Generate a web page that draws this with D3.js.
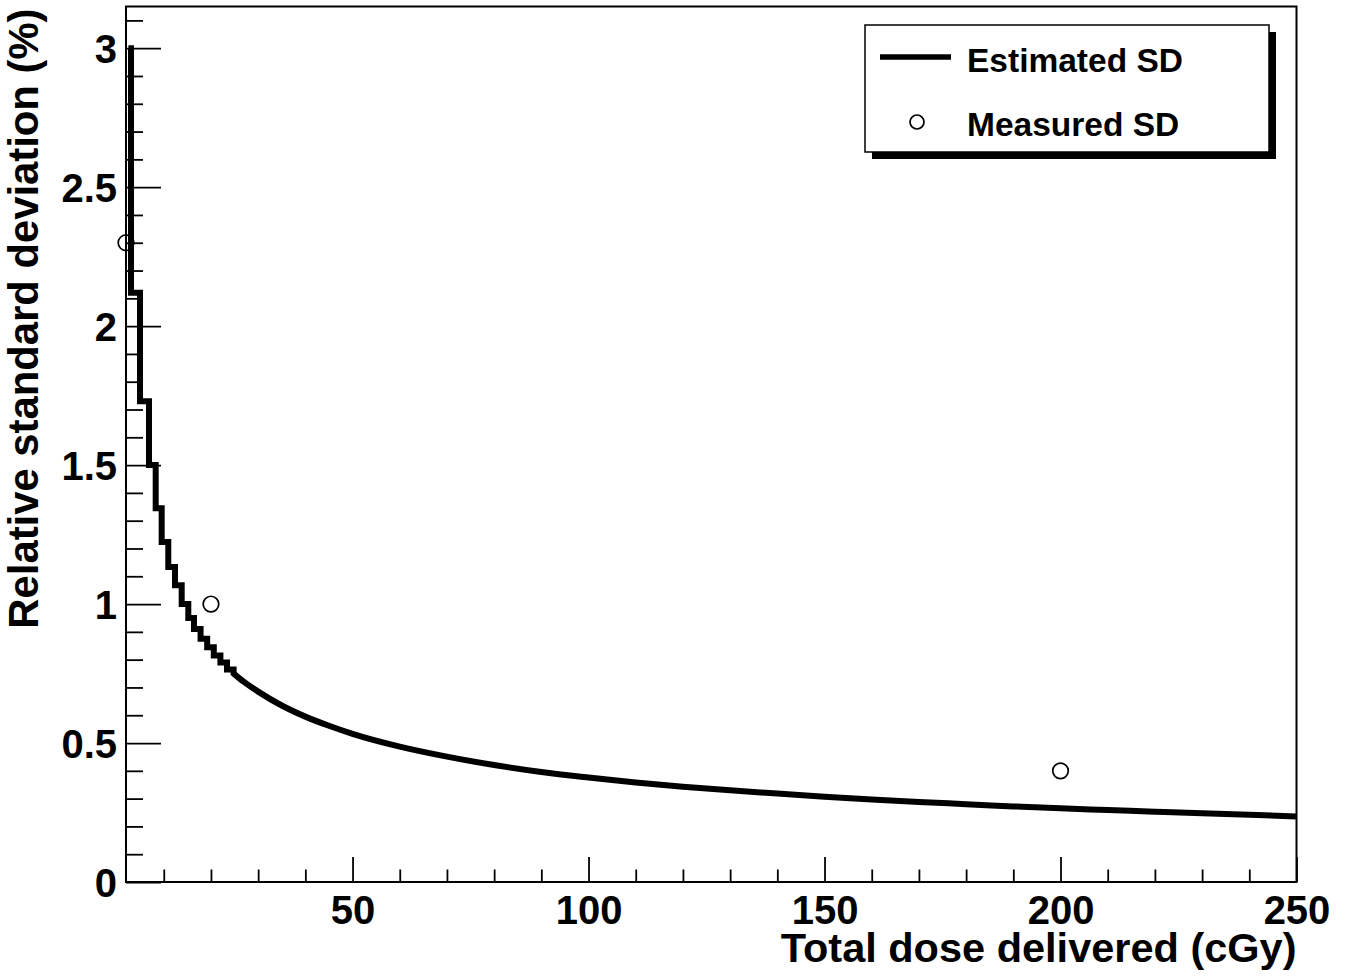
<!DOCTYPE html>
<html>
<head>
<meta charset="utf-8">
<script src="https://cdn.jsdelivr.net/npm/d3@7"></script>
<style>
  html, body { margin: 0; padding: 0; background: #fff; }
  svg { display: block; }
  text { font-family: "Liberation Sans", Arial, Helvetica, sans-serif; font-weight: bold; fill: #000; }
</style>
</head>
<body>
<svg id="chart" width="1354" height="979"></svg>
<script>
// ---------- data ----------
// Estimated SD: stepped histogram at low dose (bin edges in cGy, bin values in %)
const stepEdges  = [2.5, 3.06, 4.97, 6.87, 8.29, 9.56, 10.96, 12.38, 13.8, 15.2, 16.4, 17.8, 19.2, 20.6, 22.0, 23.4, 24.8];
const stepValues = [3.0, 2.12, 1.73, 1.50, 1.345, 1.223, 1.133, 1.068, 1.0, 0.95, 0.91, 0.875, 0.845, 0.815, 0.79, 0.765];
// Estimated SD: remaining part of the curve (dose in cGy, value in %)
const tailDose  = [24.8, 27, 30, 35, 40, 45, 50, 60, 70, 80, 90, 100, 110, 120, 130, 140, 150, 160, 170, 180, 190, 200, 210, 220, 230, 240, 250];
const tailValue = [0.75, 0.72, 0.685, 0.635, 0.595, 0.562, 0.533, 0.487, 0.451, 0.421, 0.396, 0.376, 0.358, 0.343, 0.33, 0.318, 0.307, 0.297, 0.288, 0.28, 0.272, 0.265, 0.259, 0.253, 0.247, 0.242, 0.236];
// Measured SD points
const measuredDose  = [2, 20, 200];
const measuredValue = [2.3, 1.0, 0.4];
// Axis ticks
const xMajorTicks = [50, 100, 150, 200, 250];
const yMajorTicks = [0, 0.5, 1, 1.5, 2, 2.5, 3];
const xTitle = "Total dose delivered (cGy)";
const yTitle = "Relative standard deviation (%)";
const legendLabels = ["Estimated SD", "Measured SD"];

// ---------- layout ----------
const frame = { left: 126, right: 1296.5, top: 6.5, bottom: 882 };
const svg = d3.select("#chart");

const x = d3.scaleLinear().domain([2, 250]).range([frame.left, frame.right]);
const y = d3.scaleLinear().domain([0, 3.15]).range([frame.bottom, frame.top]);

// x minor ticks every 10, y minor ticks every 0.1
const xMinor = d3.range(10, 251, 10).filter(v => xMajorTicks.indexOf(v) < 0);
const yMinor = d3.range(0, 32).map(i => +(i / 10).toFixed(1)).filter(v => v <= 3.15 && yMajorTicks.indexOf(v) < 0);

// ---------- axes (ROOT style: ticks inside frame) ----------
const xAxisMajor = d3.axisBottom(x).tickValues(xMajorTicks).tickSize(-25).tickFormat(d3.format("d")).tickPadding(14);
const xAxisMinor = d3.axisBottom(x).tickValues(xMinor).tickSize(-12.5).tickFormat("");
const yAxisMajor = d3.axisLeft(y).tickValues(yMajorTicks).tickSize(-35).tickFormat(d => d3.format("")(d)).tickPadding(9);
const yAxisMinor = d3.axisLeft(y).tickValues(yMinor).tickSize(-17).tickFormat("");

const gx1 = svg.append("g").attr("transform", `translate(0,${frame.bottom})`).call(xAxisMinor);
const gx2 = svg.append("g").attr("transform", `translate(0,${frame.bottom})`).call(xAxisMajor);
const gy1 = svg.append("g").attr("transform", `translate(${frame.left},0)`).call(yAxisMinor);
const gy2 = svg.append("g").attr("transform", `translate(${frame.left},0)`).call(yAxisMajor);

[gx1, gx2, gy1, gy2].forEach(g => {
  g.select(".domain").remove();
  g.selectAll(".tick line").attr("stroke", "#000").attr("stroke-width", 1.8);
});
gx2.selectAll(".tick text").attr("font-size", 40).attr("dy", "0.71em");
gy2.selectAll(".tick text").attr("font-size", 40).attr("dy", "0.36em");

// frame
svg.append("rect")
  .attr("x", frame.left).attr("y", frame.top)
  .attr("width", frame.right - frame.left).attr("height", frame.bottom - frame.top)
  .attr("fill", "none").attr("stroke", "#000").attr("stroke-width", 2);

// axis titles
svg.append("text")
  .attr("x", frame.right).attr("y", 962)
  .attr("text-anchor", "end").attr("font-size", 41.5)
  .text(xTitle);
svg.append("text")
  .attr("transform", `translate(38,${frame.top + 2}) rotate(-90)`)
  .attr("text-anchor", "end").attr("font-size", 41.8)
  .text(yTitle);

// ---------- estimated SD curve ----------
const stepPts = [];
stepValues.forEach((v, i) => {
  stepPts.push([stepEdges[i], v]);
  stepPts.push([stepEdges[i + 1], v]);
});
const tailPts = tailDose.map((d, i) => [d, tailValue[i]]);
const lineLin = d3.line().x(d => x(d[0])).y(d => y(d[1]));
const lineSmooth = d3.line().x(d => x(d[0])).y(d => y(d[1])).curve(d3.curveMonotoneX);
const pathD = lineLin(stepPts) + lineSmooth(tailPts).replace(/^M/, "L");

const clipId = "plotclip";
svg.append("clipPath").attr("id", clipId).append("rect")
  .attr("x", frame.left).attr("y", frame.top)
  .attr("width", frame.right - frame.left).attr("height", frame.bottom - frame.top);

svg.append("path")
  .attr("d", pathD)
  .attr("fill", "none").attr("stroke", "#000").attr("stroke-width", 6)
  .attr("stroke-linejoin", "miter").attr("stroke-linecap", "butt")
  .attr("clip-path", `url(#${clipId})`);

// ---------- measured SD points ----------
svg.append("g").selectAll("circle")
  .data(measuredDose.map((d, i) => [d, measuredValue[i]]))
  .join("circle")
  .attr("cx", d => x(d[0])).attr("cy", d => y(d[1]))
  .attr("r", 7.8)
  .attr("fill", "none").attr("stroke", "#000").attr("stroke-width", 1.7);

// ---------- legend ----------
const lg = { x: 865, y: 25, w: 404, h: 127, shadow: 7 };
svg.append("rect")
  .attr("x", lg.x + lg.shadow).attr("y", lg.y + lg.shadow)
  .attr("width", lg.w).attr("height", lg.h).attr("fill", "#000");
svg.append("rect")
  .attr("x", lg.x).attr("y", lg.y).attr("width", lg.w).attr("height", lg.h)
  .attr("fill", "#fff").attr("stroke", "#000").attr("stroke-width", 1.5);
svg.append("line")
  .attr("x1", 880).attr("x2", 951).attr("y1", 57).attr("y2", 57)
  .attr("stroke", "#000").attr("stroke-width", 5.5);
svg.append("circle")
  .attr("cx", 917).attr("cy", 122).attr("r", 7)
  .attr("fill", "none").attr("stroke", "#000").attr("stroke-width", 1.7);
svg.append("text").attr("x", 967).attr("y", 72).attr("font-size", 33.5).text(legendLabels[0]);
svg.append("text").attr("x", 967).attr("y", 136).attr("font-size", 33.5).text(legendLabels[1]);
</script>
</body>
</html>
